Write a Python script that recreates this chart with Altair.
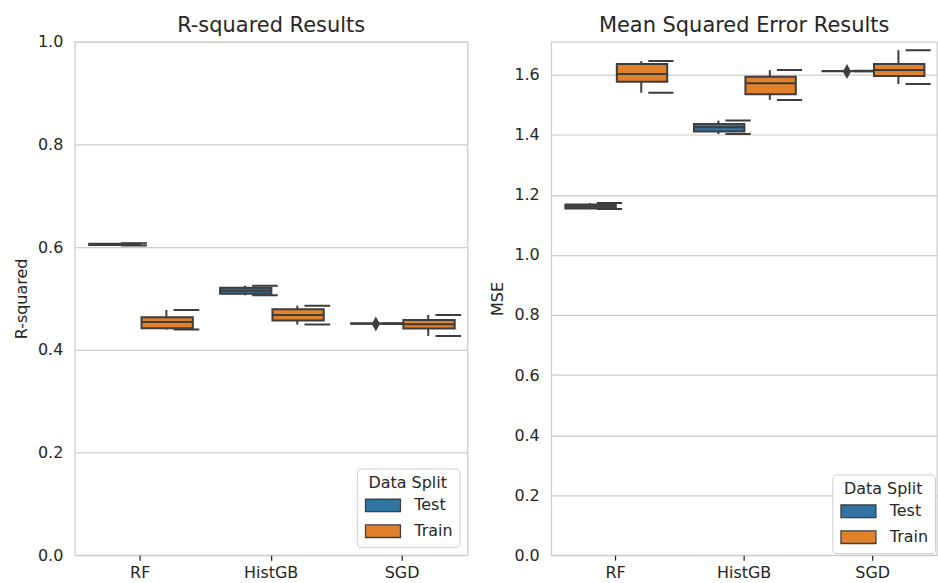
import altair as alt
import pandas as pd

models = ["RF", "HistGB", "SGD"]
splits = ["Test", "Train"]
split_colors = ["#3274a1", "#e1812c"]

# box statistics, order: RF Test, RF Train, HistGB Test, HistGB Train, SGD Test, SGD Train
r2_lo = [0.6032, 0.4394, 0.5062, 0.4491, 0.4508, 0.4270]
r2_q1 = [0.6040, 0.4421, 0.5093, 0.4569, 0.4509, 0.4414]
r2_med = [0.6055, 0.4540, 0.5150, 0.4680, 0.4511, 0.4499]
r2_q3 = [0.6068, 0.4635, 0.5210, 0.4790, 0.4513, 0.4583]
r2_hi = [0.6075, 0.4777, 0.5249, 0.4860, 0.4515, 0.4680]
r2_flier_model = ["SGD"]
r2_flier_split = ["Test"]
r2_flier_val = [0.4505]

mse_lo = [1.1528, 1.5405, 1.4025, 1.5163, 1.6118, 1.5694]
mse_q1 = [1.1551, 1.5770, 1.4110, 1.5352, 1.6121, 1.5959]
mse_med = [1.1610, 1.6026, 1.4257, 1.5717, 1.6125, 1.6158]
mse_q3 = [1.1684, 1.6360, 1.4366, 1.5936, 1.6129, 1.6357]
mse_hi = [1.1728, 1.6457, 1.4476, 1.6158, 1.6132, 1.6820]
mse_flier_model = ["SGD"]
mse_flier_split = ["Test"]
mse_flier_val = [1.6110]

r2_ticks = [0.0, 0.2, 0.4, 0.6, 0.8, 1.0]
mse_ticks = [0.0, 0.2, 0.4, 0.6, 0.8, 1.0, 1.2, 1.4, 1.6]

DARK = "#3d3d3d"
FONT = "DejaVu Sans"
TXT = "#262626"

model_col = [m for m in models for _ in splits]
split_col = [s for _ in models for s in splits]


def panel(lo, q1, med, q3, hi, fm, fs, fv, domain, ticks, title, ytitle,
          width, legend_offset, title_offset):
    df = pd.DataFrame({"model": model_col, "split": split_col,
                       "lo": lo, "q1": q1, "med": med, "q3": q3, "hi": hi})
    fl = pd.DataFrame({"model": fm, "split": fs, "val": fv})
    x = alt.X("model:N", sort=models,
              scale=alt.Scale(paddingInner=0, paddingOuter=0),
              axis=alt.Axis(title=None, labelAngle=0))
    xo = alt.XOffset("split:N", sort=splits,
                     scale=alt.Scale(paddingInner=0, paddingOuter=0.25))
    ysc = alt.Scale(domain=domain, nice=False, zero=False)
    yax = alt.Axis(title=ytitle, values=ticks, format=".1f")
    base = alt.Chart(df)
    whisk = base.mark_rule(color=DARK, strokeWidth=2).encode(
        x=x, xOffset=xo, y=alt.Y("lo:Q", scale=ysc, axis=yax), y2="hi:Q")
    cap_hi = base.mark_bar(width=alt.RelativeBandSize(0.49), fillOpacity=0,
                           stroke=DARK, strokeWidth=2).encode(
        x=x, xOffset=xo, y="hi:Q", y2="hi:Q")
    cap_lo = base.mark_bar(width=alt.RelativeBandSize(0.49), fillOpacity=0,
                           stroke=DARK, strokeWidth=2).encode(
        x=x, xOffset=xo, y="lo:Q", y2="lo:Q")
    box = base.mark_bar(width=alt.RelativeBandSize(0.98), stroke=DARK,
                        strokeWidth=2, opacity=1).encode(
        x=x, xOffset=xo, y="q1:Q", y2="q3:Q",
        color=alt.Color("split:N", sort=splits,
                        scale=alt.Scale(domain=splits, range=split_colors),
                        legend=alt.Legend(
                            title="Data Split", orient="bottom-right",
                            offset=legend_offset, padding=7,
                            strokeColor="#cccccc", fillColor="white",
                            cornerRadius=4,
                            symbolType="M-2.78,-1H2.78V1H-2.78Z",
                            symbolSize=159, symbolOffset=11.2,
                            symbolStrokeColor=DARK, symbolStrokeWidth=1.3,
                            symbolOpacity=1,
                            labelOffset=23.4, labelFontSize=16,
                            labelFont=FONT, labelColor=TXT,
                            titleFontSize=16, titleFont=FONT,
                            titleFontWeight="normal", titleColor=TXT,
                            titleAnchor="middle", titlePadding=6,
                            rowPadding=8)))
    medl = base.mark_bar(width=alt.RelativeBandSize(0.98), fillOpacity=0,
                         stroke=DARK, strokeWidth=2).encode(
        x=x, xOffset=xo, y="med:Q", y2="med:Q")
    flier = alt.Chart(fl).mark_point(
        shape="M0,-1L0.55,0L0,1L-0.55,0Z", filled=True, size=225,
        color=DARK, opacity=1).encode(x=x, xOffset=xo, y="val:Q")
    return alt.layer(whisk, cap_hi, cap_lo, box, medl, flier).properties(
        width=width, height=515,
        title=alt.TitleParams(title, fontSize=21, font=FONT,
                              fontWeight="normal", color=TXT,
                              offset=title_offset))


left = panel(r2_lo, r2_q1, r2_med, r2_q3, r2_hi,
             r2_flier_model, r2_flier_split, r2_flier_val,
             [0, 1.0], r2_ticks, "R-squared Results", "R-squared", 394, 8, -2)
right = panel(mse_lo, mse_q1, mse_med, mse_q3, mse_hi,
              mse_flier_model, mse_flier_split, mse_flier_val,
              [0, 1.71], mse_ticks, "Mean Squared Error Results", "MSE",
              387, 2, 6)

chart = alt.hconcat(left, right, spacing=20).resolve_scale(
    y="independent", color="independent", x="independent",
    xOffset="independent").properties(
    padding={"left": 12, "top": 13, "right": 0, "bottom": 0}
).configure(font=FONT, background="white").configure_view(
    stroke="#cccccc", strokeWidth=1.25
).configure_axis(
    labelFont=FONT, labelFontSize=16, labelColor=TXT,
    titleFont=FONT, titleFontSize=16, titleFontWeight="normal",
    titleColor=TXT, gridColor="#cccccc", gridWidth=1.25, domain=False
).configure_axisX(
    grid=False, ticks=True, tickSize=5, tickColor=TXT, tickWidth=1.25,
    labelPadding=4
).configure_axisY(
    grid=True, ticks=False, tickSize=0, labelPadding=12, titlePadding=8
)

chart.save("out.html", embed_options={"renderer": "svg", "actions": False})
